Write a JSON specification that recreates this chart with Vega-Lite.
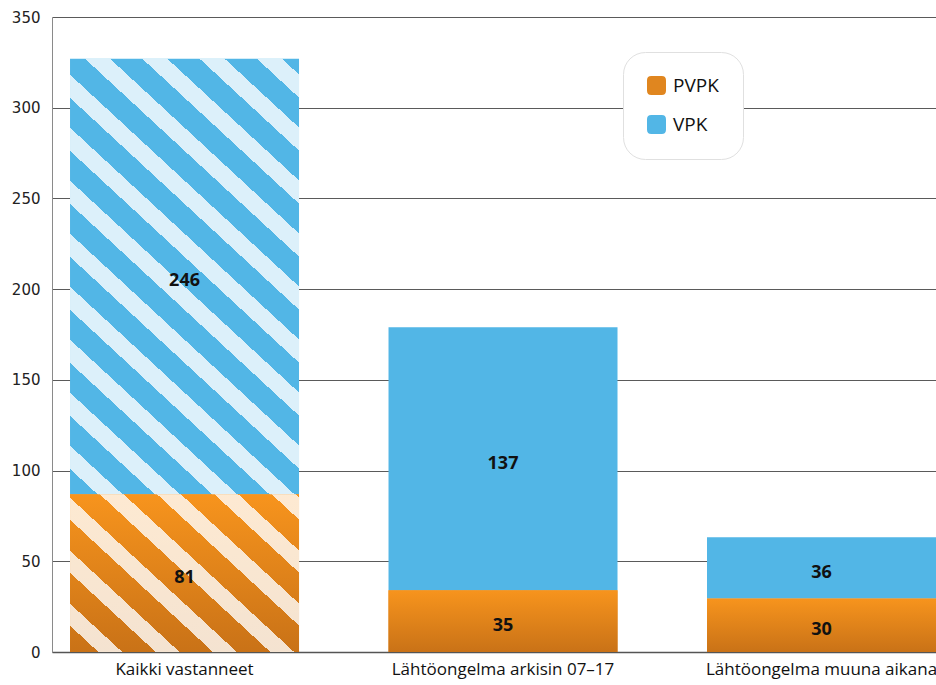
{
  "$schema": "https://vega.github.io/schema/vega-lite/v6.json",
  "width": 884,
  "height": 635,
  "autosize": {"type": "none"},
  "padding": {"left": 52, "top": 17, "right": 0, "bottom": 33},
  "background": "white",
  "config": {"view": {"stroke": null}},
  "data": {
    "values": [
      {"cat": "Kaikki vastanneet", "series": "PVPK", "value": 87, "label": 81},
      {"cat": "Kaikki vastanneet", "series": "VPK", "value": 240, "label": 246},
      {"cat": "Lähtöongelma arkisin 07–17", "series": "PVPK", "value": 34, "label": 35},
      {"cat": "Lähtöongelma arkisin 07–17", "series": "VPK", "value": 145, "label": 137},
      {"cat": "Lähtöongelma muuna aikana", "series": "PVPK", "value": 29.5, "label": 30},
      {"cat": "Lähtöongelma muuna aikana", "series": "VPK", "value": 33.7, "label": 36}
    ]
  },
  "encoding": {
    "x": {
      "field": "cat", "type": "nominal", "sort": null,
      "scale": {"paddingInner": 0.281, "paddingOuter": 0.0283, "align": 1},
      "axis": {"title": null, "labelAngle": 0, "ticks": false, "domainColor": "#555555", "domainWidth": 1.5,
               "labelFont": "Open Sans", "labelFontSize": 17, "labelColor": "#111111", "labelPadding": 9, "labelLimit": 500}
    }
  },
  "layer": [
    {
      "mark": {"type": "bar", "strokeWidth": 0},
      "encoding": {
        "y": {
          "field": "value", "type": "quantitative", "stack": "zero",
          "scale": {"domain": [0, 350], "nice": false},
          "axis": {"title": null, "values": [0, 50, 100, 150, 200, 250, 300, 350], "grid": true,
                   "gridColor": "#5a5a5a", "gridWidth": 1, "ticks": false, "domainColor": "#8a8a8a",
                   "labelFont": "DejaVu Sans", "labelFontSize": 15, "labelColor": "#222222", "labelPadding": 12}
        },
        "order": {"field": "series", "sort": "ascending"},
        "fill": {
          "field": "series", "type": "nominal",
          "scale": {"domain": ["PVPK", "VPK"], "range": ["#e0861f", "#52b6e6"]},
          "legend": {
            "title": null, "orient": "none", "legendX": 571, "legendY": 35,
            "fillColor": "white", "cornerRadius": 22, "strokeColor": "#e0e0e0", "padding": 24,
            "symbolType": "M-1,-0.55Q-1,-1,-0.55,-1L0.55,-1Q1,-1,1,-0.55L1,0.55Q1,1,0.55,1L-0.55,1Q-1,1,-1,0.55Z",
            "symbolSize": 361, "symbolStrokeWidth": 0, "labelFont": "Open Sans", "labelFontSize": 19,
            "labelColor": "#111111", "labelOffset": 7, "rowPadding": 19,
            "labelExpr": "datum.label + '\u00a0\u00a0\u00a0\u00a0'"
          }
        }
      }
    },
    {
      "transform": [{"filter": "datum.series === 'PVPK'"}],
      "mark": {"type": "bar", "strokeWidth": 0,
        "fill": {"gradient": "linear", "x1": 0, "y1": 0, "x2": 0, "y2": 1,
          "stops": [{"offset": 0, "color": "#f7941d"}, {"offset": 1, "color": "#c97217"}]}},
      "encoding": {
        "y": {"field": "value", "type": "quantitative", "stack": "zero"}
      }
    },
    {
      "transform": [{"filter": "datum.cat === 'Kaikki vastanneet'"}],
      "mark": {"type": "bar", "strokeWidth": 0},
      "encoding": {
        "y": {"field": "value", "type": "quantitative", "stack": "zero"},
        "order": {"field": "series", "sort": "ascending"},
        "fill": {
          "condition": {
            "test": "datum.series === 'VPK'",
            "value": {"gradient": "linear", "x1": 0, "y1": 1, "x2": 0.58473, "y2": -0.20201,
              "stops": [
                {"offset": 0, "color": "rgba(255,255,255,0)"},
                {"offset": 0.03912, "color": "rgba(255,255,255,0)"}, {"offset": 0.03912, "color": "rgba(255,255,255,0.8)"},
                {"offset": 0.07482, "color": "rgba(255,255,255,0.8)"}, {"offset": 0.07482, "color": "rgba(255,255,255,0)"},
                {"offset": 0.12100, "color": "rgba(255,255,255,0)"}, {"offset": 0.12100, "color": "rgba(255,255,255,0.8)"},
                {"offset": 0.15670, "color": "rgba(255,255,255,0.8)"}, {"offset": 0.15670, "color": "rgba(255,255,255,0)"},
                {"offset": 0.20289, "color": "rgba(255,255,255,0)"}, {"offset": 0.20289, "color": "rgba(255,255,255,0.8)"},
                {"offset": 0.23859, "color": "rgba(255,255,255,0.8)"}, {"offset": 0.23859, "color": "rgba(255,255,255,0)"},
                {"offset": 0.28477, "color": "rgba(255,255,255,0)"}, {"offset": 0.28477, "color": "rgba(255,255,255,0.8)"},
                {"offset": 0.32048, "color": "rgba(255,255,255,0.8)"}, {"offset": 0.32048, "color": "rgba(255,255,255,0)"},
                {"offset": 0.36666, "color": "rgba(255,255,255,0)"}, {"offset": 0.36666, "color": "rgba(255,255,255,0.8)"},
                {"offset": 0.40236, "color": "rgba(255,255,255,0.8)"}, {"offset": 0.40236, "color": "rgba(255,255,255,0)"},
                {"offset": 0.44854, "color": "rgba(255,255,255,0)"}, {"offset": 0.44854, "color": "rgba(255,255,255,0.8)"},
                {"offset": 0.48425, "color": "rgba(255,255,255,0.8)"}, {"offset": 0.48425, "color": "rgba(255,255,255,0)"},
                {"offset": 0.53043, "color": "rgba(255,255,255,0)"}, {"offset": 0.53043, "color": "rgba(255,255,255,0.8)"},
                {"offset": 0.56613, "color": "rgba(255,255,255,0.8)"}, {"offset": 0.56613, "color": "rgba(255,255,255,0)"},
                {"offset": 0.61231, "color": "rgba(255,255,255,0)"}, {"offset": 0.61231, "color": "rgba(255,255,255,0.8)"},
                {"offset": 0.64802, "color": "rgba(255,255,255,0.8)"}, {"offset": 0.64802, "color": "rgba(255,255,255,0)"},
                {"offset": 0.69420, "color": "rgba(255,255,255,0)"}, {"offset": 0.69420, "color": "rgba(255,255,255,0.8)"},
                {"offset": 0.72990, "color": "rgba(255,255,255,0.8)"}, {"offset": 0.72990, "color": "rgba(255,255,255,0)"},
                {"offset": 0.77608, "color": "rgba(255,255,255,0)"}, {"offset": 0.77608, "color": "rgba(255,255,255,0.8)"},
                {"offset": 0.81179, "color": "rgba(255,255,255,0.8)"}, {"offset": 0.81179, "color": "rgba(255,255,255,0)"},
                {"offset": 0.85797, "color": "rgba(255,255,255,0)"}, {"offset": 0.85797, "color": "rgba(255,255,255,0.8)"},
                {"offset": 0.89367, "color": "rgba(255,255,255,0.8)"}, {"offset": 0.89367, "color": "rgba(255,255,255,0)"},
                {"offset": 0.93986, "color": "rgba(255,255,255,0)"}, {"offset": 0.93986, "color": "rgba(255,255,255,0.8)"},
                {"offset": 0.97556, "color": "rgba(255,255,255,0.8)"}, {"offset": 0.97556, "color": "rgba(255,255,255,0)"},
                {"offset": 1, "color": "rgba(255,255,255,0)"}
              ]}
          },
          "value": {"gradient": "linear", "x1": 0, "y1": 1, "x2": 1.12209, "y2": 0.16385,
            "stops": [
              {"offset": 0, "color": "rgba(255,255,255,0)"},
              {"offset": 0.07109, "color": "rgba(255,255,255,0)"}, {"offset": 0.07109, "color": "rgba(255,255,255,0.8)"},
              {"offset": 0.13059, "color": "rgba(255,255,255,0.8)"}, {"offset": 0.13059, "color": "rgba(255,255,255,0)"},
              {"offset": 0.21447, "color": "rgba(255,255,255,0)"}, {"offset": 0.21447, "color": "rgba(255,255,255,0.8)"},
              {"offset": 0.27397, "color": "rgba(255,255,255,0.8)"}, {"offset": 0.27397, "color": "rgba(255,255,255,0)"},
              {"offset": 0.35785, "color": "rgba(255,255,255,0)"}, {"offset": 0.35785, "color": "rgba(255,255,255,0.8)"},
              {"offset": 0.41735, "color": "rgba(255,255,255,0.8)"}, {"offset": 0.41735, "color": "rgba(255,255,255,0)"},
              {"offset": 0.50122, "color": "rgba(255,255,255,0)"}, {"offset": 0.50122, "color": "rgba(255,255,255,0.8)"},
              {"offset": 0.56072, "color": "rgba(255,255,255,0.8)"}, {"offset": 0.56072, "color": "rgba(255,255,255,0)"},
              {"offset": 0.64460, "color": "rgba(255,255,255,0)"}, {"offset": 0.64460, "color": "rgba(255,255,255,0.8)"},
              {"offset": 0.70410, "color": "rgba(255,255,255,0.8)"}, {"offset": 0.70410, "color": "rgba(255,255,255,0)"},
              {"offset": 0.78798, "color": "rgba(255,255,255,0)"}, {"offset": 0.78798, "color": "rgba(255,255,255,0.8)"},
              {"offset": 0.84748, "color": "rgba(255,255,255,0.8)"}, {"offset": 0.84748, "color": "rgba(255,255,255,0)"},
              {"offset": 0.93136, "color": "rgba(255,255,255,0)"}, {"offset": 0.93136, "color": "rgba(255,255,255,0.8)"},
              {"offset": 0.99085, "color": "rgba(255,255,255,0.8)"}, {"offset": 0.99085, "color": "rgba(255,255,255,0)"},
              {"offset": 1, "color": "rgba(255,255,255,0)"}
            ]}
        }
      }
    },
    {
      "transform": [
        {"stack": "value", "groupby": ["cat"], "sort": [{"field": "series", "order": "ascending"}], "as": ["v0", "v1"]},
        {"calculate": "(datum.v0 + datum.v1) / 2", "as": "mid"}
      ],
      "mark": {"type": "text", "font": "Open Sans", "fontWeight": "bold", "fontSize": 18, "baseline": "middle", "dy": 5, "color": "#111111"},
      "encoding": {
        "y": {"field": "mid", "type": "quantitative"},
        "text": {"field": "label", "type": "quantitative"}
      }
    }
  ]
}
